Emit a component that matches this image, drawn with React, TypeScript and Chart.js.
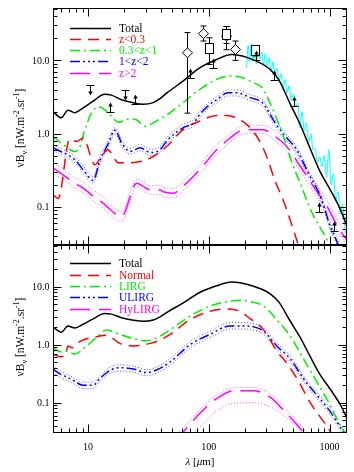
import { useEffect, useRef } from "react";
import { Chart, registerables } from "chart.js";
Chart.register(...registerables);

// ---------- axes ----------
const X_MIN = 5.12;
const X_MAX = 1395;
const Y_MIN = 0.03;
const Y_MAX = 52;
const X_TICKS = [10, 100, 1000];
const X_TICK_LABELS = ["10", "100", "1000"];
const Y_TICKS = [0.1, 1, 10];
const Y_TICK_LABELS = ["0.1", "1.0", "10.0"];

// ---------- shared total ----------
const TOTAL_X = [5.12, 6.0, 6.8, 7.75, 9.1, 11, 13.7, 15.6, 18.9, 23.7, 28.6, 34.6, 39.4, 45, 61, 84, 116, 154, 206, 281, 322, 378, 472, 571, 692, 837, 1014, 1228, 1395];
const TOTAL_Y = [2.0, 1.64, 2.09, 1.93, 2.24, 2.77, 3.45, 3.35, 2.9, 2.63, 2.52, 2.65, 3.0, 3.6, 5.2, 7.9, 10.3, 12.0, 11.0, 8.8, 7.5, 5.5, 2.55, 1.33, 0.62, 0.3, 0.17, 0.092, 0.054];

// ---------- top panel: redshift bins ----------
const ZA_X = [5.12, 5.66, 7.05, 8.03, 9.1, 11.4, 12.9, 14.6, 17.8, 22.2, 32.6, 45, 61, 84, 116, 141, 181, 220, 259, 301, 352, 412, 472, 535, 600];
const ZA_Y = [0.146, 0.13, 0.845, 0.78, 0.87, 0.375, 0.49, 0.6, 0.4, 0.4, 0.46, 0.67, 1.13, 1.48, 1.77, 1.77, 1.55, 1.2, 0.83, 0.49, 0.23, 0.125, 0.066, 0.035, 0.02];

const ZB_X = [5.12, 6.2, 7.75, 8.5, 9.4, 10.7, 12.2, 13.7, 15.6, 17.8, 22.2, 25.3, 29.6, 34.6, 39.4, 45, 61, 84, 116, 150, 190, 220, 281, 301, 352, 412, 483, 571, 715, 955, 1100];
const ZB_Y = [0.91, 0.71, 0.57, 0.64, 1.13, 1.92, 2.33, 2.13, 1.73, 1.43, 1.59, 1.53, 1.26, 1.4, 1.59, 1.8, 2.64, 4.0, 5.5, 6.1, 5.8, 5.2, 4.1, 3.3, 1.85, 0.95, 0.42, 0.21, 0.083, 0.035, 0.02];

const ZC_X = [5.12, 7.75, 9.1, 11, 12.6, 14.6, 16.7, 19, 22.3, 27, 32.7, 39.4, 45, 61, 75, 84, 102, 116, 145, 170, 220, 281, 301, 345, 412, 535, 666, 837, 1014, 1145, 1300];
const ZC_Y = [0.64, 0.44, 0.32, 0.23, 0.44, 0.71, 1.11, 0.74, 0.57, 0.64, 0.55, 0.6, 0.8, 1.2, 1.4, 1.82, 2.5, 2.9, 3.6, 3.6, 3.1, 2.6, 2.2, 1.5, 1.0, 0.6, 0.29, 0.14, 0.054, 0.034, 0.02];
const ZC_HI = [0.7, 0.49, 0.36, 0.26, 0.49, 0.79, 1.2, 0.82, 0.63, 0.71, 0.61, 0.66, 0.88, 1.32, 1.55, 2.0, 2.75, 3.2, 3.95, 3.95, 3.4, 2.85, 2.4, 1.65, 1.1, 0.66, 0.32, 0.155, 0.06, 0.038, 0.022];
const ZC_LO = [0.58, 0.4, 0.29, 0.21, 0.4, 0.64, 1.0, 0.67, 0.52, 0.58, 0.5, 0.55, 0.73, 1.09, 1.27, 1.65, 2.27, 2.63, 3.27, 3.27, 2.82, 2.36, 2.0, 1.36, 0.91, 0.55, 0.26, 0.127, 0.049, 0.031, 0.018];

const ZD_X = [5.12, 5.9, 7.75, 9.1, 11, 13.3, 17.2, 18.9, 25.3, 28.6, 32.6, 39.4, 42, 50.8, 61, 84, 116, 150, 181, 220, 281, 352, 441, 571, 735, 955, 1188, 1395];
const ZD_Y = [0.34, 0.29, 0.21, 0.18, 0.14, 0.112, 0.078, 0.074, 0.21, 0.19, 0.17, 0.17, 0.16, 0.153, 0.19, 0.32, 0.6, 0.87, 1.08, 1.13, 1.13, 0.92, 0.67, 0.36, 0.19, 0.1, 0.051, 0.035];
const ZD_HI = [0.4, 0.35, 0.25, 0.215, 0.17, 0.135, 0.092, 0.087, 0.24, 0.22, 0.195, 0.195, 0.185, 0.178, 0.22, 0.37, 0.7, 1.0, 1.23, 1.3, 1.3, 1.08, 0.8, 0.43, 0.23, 0.12, 0.062, 0.042];
const ZD_LO = [0.29, 0.25, 0.18, 0.155, 0.12, 0.096, 0.066, 0.063, 0.185, 0.165, 0.148, 0.148, 0.138, 0.132, 0.165, 0.28, 0.52, 0.76, 0.95, 1.0, 1.0, 0.8, 0.58, 0.31, 0.16, 0.085, 0.044, 0.03];

// FIRAS-like spectrum (cyan)
const FIRAS_X = [205, 212, 218, 225, 232, 240, 248, 256, 265, 274, 284, 294, 305, 316, 328, 340, 353, 367, 381, 396, 412, 428, 445, 463, 482, 502, 523, 545, 568, 592, 617, 643, 670, 700, 730, 762, 795, 830, 866, 904, 944, 986, 1030, 1076, 1124, 1174, 1226, 1280, 1336, 1395];
const FIRAS_Y = [8, 16, 9.5, 17, 10, 14, 9, 15, 10.5, 13, 8.5, 12.5, 8.5, 11, 7, 9.5, 6.5, 7.8, 5.2, 6.6, 4.0, 5.5, 3.6, 4.5, 2.8, 3.5, 2.3, 2.6, 1.2, 2.0, 1.1, 1.4, 0.75, 1.0, 0.6, 0.62, 0.4, 0.48, 0.35, 0.5, 0.25, 0.6, 0.2, 0.28, 0.12, 0.16, 0.08, 0.11, 0.05, 0.04];

// measurements
const DIAM_X = [66, 90, 140, 165];
const DIAM_Y = [12.7, 23.2, 21.5, 14.1];
const DIAM_LO = [1.9, 18.4, 14, 10];
const DIAM_HI = [24, 29.5, 29, 18.4];
const SQ_X = [101, 140, 240];
const SQ_Y = [14.9, 23.2, 13.7];
const SQ_LO = [8.8, 17, 11.5];
const SQ_HI = [20.4, 29, 15];
const LOWLIM_X = [15.2, 24.5, 70, 109, 245, 345, 505, 812, 1080];
const LOWLIM_Y = [2.0, 2.5, 5.8, 7.9, 10, 5.4, 2.4, 0.086, 0.046];
const UPLIM_X = [10.3, 20.3];
const UPLIM_Y = [4.55, 3.9];

// ---------- bottom panel: galaxy types ----------
const NORMAL_X = [5.12, 5.9, 6.5, 6.8, 7.4, 8.1, 9.1, 11.7, 14.2, 18.3, 23.7, 32.6, 39.4, 47.7, 70, 102, 141, 181, 220, 250, 281, 322, 372, 417, 538, 692, 892, 1014, 1150];
const NORMAL_Y = [0.69, 0.62, 0.66, 0.95, 0.88, 1.05, 1.2, 1.37, 1.45, 1.05, 0.95, 1.05, 1.2, 1.5, 2.7, 3.75, 4.1, 3.75, 2.8, 2.35, 1.85, 1.2, 0.74, 0.56, 0.26, 0.1, 0.047, 0.032, 0.02];

const LIRG_X = [5.12, 5.9, 6.4, 7.75, 9.7, 11.7, 14.2, 18.3, 25.3, 30.5, 39.4, 47.7, 70, 102, 150, 190, 220, 285, 365, 472, 608, 783, 1014, 1270, 1400];
const LIRG_Y = [0.89, 0.75, 0.78, 0.69, 0.95, 1.32, 1.78, 1.5, 1.23, 1.16, 1.4, 1.8, 3.1, 4.6, 5.6, 5.8, 5.5, 4.6, 2.7, 1.4, 0.57, 0.23, 0.09, 0.036, 0.028];

const ULIRG_X = [5.12, 5.9, 7.1, 9.1, 11, 12.5, 15.2, 18.3, 23.7, 30.5, 39.4, 47.7, 70, 102, 150, 192, 240, 285, 365, 472, 608, 783, 1014, 1270, 1400];
const ULIRG_Y = [0.38, 0.31, 0.26, 0.2, 0.2, 0.26, 0.36, 0.4, 0.38, 0.33, 0.39, 0.5, 1.0, 1.5, 2.1, 2.1, 2.0, 1.7, 0.95, 0.57, 0.26, 0.135, 0.07, 0.034, 0.026];
const ULIRG_HI = [0.43, 0.35, 0.29, 0.225, 0.225, 0.29, 0.41, 0.45, 0.43, 0.37, 0.44, 0.57, 1.13, 1.7, 2.4, 2.4, 2.27, 1.92, 1.07, 0.64, 0.29, 0.152, 0.079, 0.038, 0.029];
const ULIRG_LO = [0.335, 0.27, 0.23, 0.175, 0.175, 0.23, 0.32, 0.35, 0.335, 0.29, 0.345, 0.44, 0.88, 1.32, 1.85, 1.85, 1.76, 1.5, 0.84, 0.5, 0.23, 0.119, 0.062, 0.03, 0.023];

const HYLIRG_X = [50, 61, 84, 116, 160, 234, 322, 441, 571, 650];
const HYLIRG_Y = [0.022, 0.031, 0.065, 0.117, 0.16, 0.16, 0.125, 0.065, 0.036, 0.025];
const HYLIRG_HI = [0.025, 0.036, 0.075, 0.135, 0.18, 0.182, 0.142, 0.075, 0.042, 0.029];
const HYLIRG_LO_X = [75, 84, 116, 160, 234, 322, 441, 571, 700];
const HYLIRG_LO = [0.03, 0.038, 0.072, 0.097, 0.1, 0.085, 0.055, 0.035, 0.025];

// ---------- styles ----------
const RED = "#ff0000";
const GREEN = "#00ee00";
const BLUE = "#0000ff";
const MAGENTA = "#ff00ff";
const CYAN = "#00ffff";
const DASH_RED = [11, 7];
const DASH_GREEN = [10, 4, 2, 4];
const DASH_BLUE = [10, 3, 2, 3, 2, 3, 2, 3];
const DASH_MAG = [20, 9];
const DASH_ENV = [1, 2];
const SERIF = '"Liberation Serif", "Times New Roman", serif';

const W = 354;
const H = 472;
const LEFT = 53;
const RIGHT = 347;
const TOP = 8;
const MID = 245;
const BOTTOM = 433;

function pts(xs: number[], ys: number[]) {
  return xs.map((x, i) => ({ x, y: ys[i] }));
}

function line(xs: number[], ys: number[], color: string, width: number, dash: number[] = []) {
  return {
    data: pts(xs, ys),
    showLine: true,
    borderColor: color,
    backgroundColor: color,
    borderWidth: width,
    borderDash: dash,
    pointRadius: 0,
    fill: false,
    cubicInterpolationMode: "monotone",
  };
}

type LegendItem = { text: string; color: string; dash: number[] };
type PanelOpts = {
  legend: LegendItem[];
  legendTop: number;
  xLabels: boolean;
  markers: boolean;
  titleY: number;
};

function decor(p: PanelOpts) {
  return {
    id: "decor",
    afterDatasetsDraw(chart: any) {
      const ctx: CanvasRenderingContext2D = chart.ctx;
      const sx = chart.scales.x;
      const sy = chart.scales.y;
      const X = (v: number) => sx.getPixelForValue(v);
      const Y = (v: number) => sy.getPixelForValue(v);
      const { left, right, top, bottom } = chart.chartArea;
      const seg = (x1: number, y1: number, x2: number, y2: number) => {
        ctx.beginPath();
        ctx.moveTo(x1, y1);
        ctx.lineTo(x2, y2);
        ctx.stroke();
      };

      // measurements
      if (p.markers) {
        ctx.save();
        ctx.beginPath();
        ctx.rect(left, top, right - left, bottom - top);
        ctx.clip();
        ctx.strokeStyle = "#000";
        ctx.fillStyle = "#000";
        ctx.lineWidth = 1;
        const errBar = (lx: number, lo: number, hi: number) => {
          const x = Math.round(X(lx)) + 0.5;
          const y1 = Y(lo);
          const y2 = Y(hi);
          seg(x, y1, x, y2);
          seg(x - 3, y1, x + 3, y1);
          seg(x - 3, y2, x + 3, y2);
        };
        DIAM_X.forEach((lx, i) => errBar(lx, DIAM_LO[i], DIAM_HI[i]));
        SQ_X.forEach((lx, i) => errBar(lx, SQ_LO[i], SQ_HI[i]));
        DIAM_X.forEach((lx, i) => {
          const x = Math.round(X(lx)) + 0.5;
          const y = Y(DIAM_Y[i]);
          ctx.beginPath();
          ctx.moveTo(x, y - 5);
          ctx.lineTo(x + 5, y);
          ctx.lineTo(x, y + 5);
          ctx.lineTo(x - 5, y);
          ctx.closePath();
          ctx.fillStyle = "#fff";
          ctx.fill();
          ctx.stroke();
        });
        SQ_X.forEach((lx, i) => {
          const x = Math.round(X(lx)) + 0.5;
          const y = Math.round(Y(SQ_Y[i])) + 0.5;
          ctx.fillStyle = "#fff";
          ctx.fillRect(x - 4, y - 5, 8, 10);
          ctx.strokeRect(x - 4, y - 5, 8, 10);
        });
        ctx.fillStyle = "#000";
        LOWLIM_X.forEach((lx, i) => {
          const x = Math.round(X(lx)) + 0.5;
          const y = Math.round(Y(LOWLIM_Y[i])) + 0.5;
          seg(x - 4, y, x + 4, y);
          seg(x, y, x, y - 8);
          ctx.beginPath();
          ctx.moveTo(x, y - 10);
          ctx.lineTo(x - 2.2, y - 6);
          ctx.lineTo(x + 2.2, y - 6);
          ctx.closePath();
          ctx.fill();
        });
        UPLIM_X.forEach((lx, i) => {
          const x = Math.round(X(lx)) + 0.5;
          const y = Math.round(Y(UPLIM_Y[i])) + 0.5;
          seg(x - 4, y, x + 4, y);
          seg(x, y, x, y + 8);
          ctx.beginPath();
          ctx.moveTo(x, y + 10);
          ctx.lineTo(x - 2.2, y + 6);
          ctx.lineTo(x + 2.2, y + 6);
          ctx.closePath();
          ctx.fill();
        });
        ctx.restore();
      }

      // frame and ticks
      ctx.save();
      ctx.strokeStyle = "#000";
      ctx.lineWidth = 1;
      const L = Math.round(left) + 0.5;
      const R = Math.round(right) - 0.5;
      const T = Math.round(top) + 0.5;
      const B = Math.round(bottom) - 0.5;
      ctx.strokeRect(L, T, R - L, B - T);
      for (let d = -2; d <= 3; d++) {
        for (let m = 1; m <= 9; m++) {
          const v = m * Math.pow(10, d);
          const len = m === 1 ? 8 : 4;
          if (v > X_MIN * 1.001 && v < X_MAX * 0.999) {
            const x = Math.round(X(v)) + 0.5;
            seg(x, B, x, B - len);
            seg(x, T, x, T + len);
          }
          if (v > Y_MIN * 1.001 && v < Y_MAX * 0.999) {
            const y = Math.round(Y(v)) + 0.5;
            seg(L, y, L + len, y);
            seg(R, y, R - len, y);
          }
        }
      }

      // tick labels
      ctx.fillStyle = "#000";
      ctx.font = `10px ${SERIF}`;
      ctx.textAlign = "right";
      ctx.textBaseline = "middle";
      Y_TICKS.forEach((v, i) => ctx.fillText(Y_TICK_LABELS[i], L - 4, Y(v) + 0.5));
      if (p.xLabels) {
        ctx.textAlign = "center";
        X_TICKS.forEach((v, i) => ctx.fillText(X_TICK_LABELS[i], X(v), 447));
        // x title
        const parts = [
          { t: "λ", f: `italic 11px ${SERIF}` },
          { t: " [", f: `11px ${SERIF}` },
          { t: "μ", f: `italic 11px ${SERIF}` },
          { t: "m]", f: `11px ${SERIF}` },
        ];
        let tw = 0;
        parts.forEach((q) => {
          ctx.font = q.f;
          tw += ctx.measureText(q.t).width;
        });
        let cx = (left + right) / 2 - tw / 2;
        ctx.textAlign = "left";
        parts.forEach((q) => {
          ctx.font = q.f;
          ctx.fillText(q.t, cx, 462);
          cx += ctx.measureText(q.t).width;
        });
      }

      // y title
      ctx.save();
      ctx.translate(24, p.titleY);
      ctx.rotate(-Math.PI / 2);
      ctx.textAlign = "left";
      ctx.textBaseline = "alphabetic";
      const tp = [
        { t: "νB", s: 11.5, dy: 0 },
        { t: "ν", s: 8, dy: 3 },
        { t: " [nW.m", s: 11.5, dy: 0 },
        { t: "-2", s: 8, dy: -5 },
        { t: ".sr", s: 11.5, dy: 0 },
        { t: "-1", s: 8, dy: -5 },
        { t: "]", s: 11.5, dy: 0 },
      ];
      let total = 0;
      tp.forEach((q) => {
        ctx.font = `${q.s}px ${SERIF}`;
        total += ctx.measureText(q.t).width;
      });
      let tx = -total / 2;
      tp.forEach((q) => {
        ctx.font = `${q.s}px ${SERIF}`;
        ctx.fillText(q.t, tx, q.dy);
        tx += ctx.measureText(q.t).width;
      });
      ctx.restore();

      // legend
      p.legend.forEach((e, i) => {
        const y = Math.round(p.legendTop + i * 11.3) + 0.5;
        ctx.strokeStyle = e.color;
        ctx.lineWidth = 1.5;
        ctx.setLineDash(e.dash);
        seg(70, y, 111, y);
        ctx.setLineDash([]);
        ctx.fillStyle = e.color;
        ctx.font = `11.5px ${SERIF}`;
        ctx.textAlign = "left";
        ctx.textBaseline = "middle";
        ctx.fillText(e.text, 119, y + 0.5);
      });
      ctx.restore();
    },
  };
}

function config(datasets: any[], padTop: number, padBottom: number, p: PanelOpts): any {
  return {
    type: "scatter",
    data: { datasets },
    options: {
      responsive: false,
      animation: false,
      events: [],
      layout: { padding: { left: LEFT, right: W - RIGHT, top: padTop, bottom: padBottom } },
      scales: {
        x: { type: "logarithmic", min: X_MIN, max: X_MAX, display: false },
        y: { type: "logarithmic", min: Y_MIN, max: Y_MAX, display: false },
      },
      plugins: { legend: { display: false }, tooltip: { enabled: false } },
    },
    plugins: [decor(p)],
  };
}

export default function App() {
  const topRef = useRef<HTMLCanvasElement>(null);
  const botRef = useRef<HTMLCanvasElement>(null);

  useEffect(() => {
    const topSets = [
      line(TOTAL_X, TOTAL_Y, "#000", 1.5),
      line(FIRAS_X, FIRAS_Y, CYAN, 1),
      line(ZA_X, ZA_Y, RED, 1.5, DASH_RED),
      line(ZB_X, ZB_Y, GREEN, 1.5, DASH_GREEN),
      line(ZC_X, ZC_Y, BLUE, 1.5, DASH_BLUE),
      line(ZD_X, ZD_Y, MAGENTA, 1.5, DASH_MAG),
      line(ZC_X, ZC_HI, "rgba(0,0,255,0.7)", 1, DASH_ENV),
      line(ZC_X, ZC_LO, "rgba(0,0,255,0.7)", 1, DASH_ENV),
      line(ZD_X, ZD_HI, "rgba(255,0,255,0.7)", 1, DASH_ENV),
      line(ZD_X, ZD_LO, "rgba(255,0,255,0.7)", 1, DASH_ENV),
    ];
    const botSets = [
      line(TOTAL_X, TOTAL_Y, "#000", 1.5),
      line(NORMAL_X, NORMAL_Y, RED, 1.5, DASH_RED),
      line(LIRG_X, LIRG_Y, GREEN, 1.5, DASH_GREEN),
      line(ULIRG_X, ULIRG_Y, BLUE, 1.5, DASH_BLUE),
      line(HYLIRG_X, HYLIRG_Y, MAGENTA, 1.5, DASH_MAG),
      line(ULIRG_X, ULIRG_HI, "rgba(0,0,255,0.7)", 1, DASH_ENV),
      line(ULIRG_X, ULIRG_LO, "rgba(0,0,255,0.7)", 1, DASH_ENV),
      line(HYLIRG_X, HYLIRG_HI, "rgba(255,0,255,0.7)", 1, DASH_ENV),
      line(HYLIRG_LO_X, HYLIRG_LO, "rgba(255,0,255,0.7)", 1, DASH_ENV),
    ];
    const topPanel: PanelOpts = {
      legend: [
        { text: "Total", color: "#000", dash: [] },
        { text: "z<0.3", color: RED, dash: DASH_RED },
        { text: "0.3<z<1", color: GREEN, dash: DASH_GREEN },
        { text: "1<z<2", color: BLUE, dash: DASH_BLUE },
        { text: "z>2", color: MAGENTA, dash: DASH_MAG },
      ],
      legendTop: 27.5,
      xLabels: false,
      markers: true,
      titleY: 128,
    };
    const botPanel: PanelOpts = {
      legend: [
        { text: "Total", color: "#000", dash: [] },
        { text: "Normal", color: RED, dash: DASH_RED },
        { text: "LIRG", color: GREEN, dash: DASH_GREEN },
        { text: "ULIRG", color: BLUE, dash: DASH_BLUE },
        { text: "HyLIRG", color: MAGENTA, dash: DASH_MAG },
      ],
      legendTop: 263.3,
      xLabels: true,
      markers: false,
      titleY: 337,
    };
    const c1 = new Chart(topRef.current as HTMLCanvasElement, config(topSets, TOP, H - MID, topPanel));
    const c2 = new Chart(botRef.current as HTMLCanvasElement, config(botSets, MID, H - BOTTOM, botPanel));
    return () => {
      c1.destroy();
      c2.destroy();
    };
  }, []);

  const st: any = { position: "absolute", left: 0, top: 0, width: W, height: H };
  return (
    <div style={{ position: "absolute", left: 0, top: 0, width: W, height: H, background: "#fff" }}>
      <canvas ref={botRef} width={W} height={H} style={st} />
      <canvas ref={topRef} width={W} height={H} style={st} />
    </div>
  );
}
